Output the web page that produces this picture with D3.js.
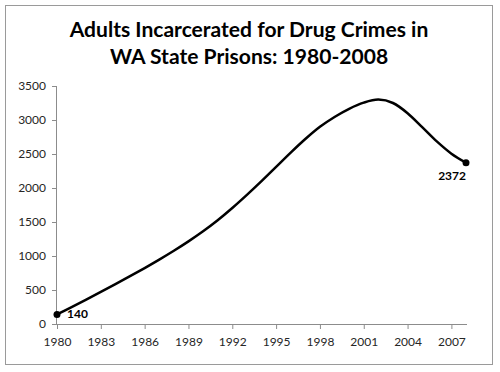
<!DOCTYPE html>
<html><head><meta charset="utf-8">
<script src="https://cdn.jsdelivr.net/npm/d3@7"></script>
<style>
html,body{margin:0;padding:0;background:#fff;}
svg{display:block;}
</style></head>
<body>
<svg id="chart" width="500" height="372"></svg>
<script>
const titleLines = ["Adults Incarcerated for Drug Crimes in", "WA State Prisons: 1980-2008"];
const years = [1980,1981,1982,1983,1984,1985,1986,1987,1988,1989,1990,1991,1992,1993,1994,1995,1996,1997,1998,1999,2000,2001,2002,2003,2004,2005,2006,2007,2008];
const inmates = [140,248,358,471,586,703,823,947,1077,1215,1363,1525,1705,1898,2100,2310,2520,2720,2900,3045,3165,3255,3300,3250,3100,2895,2685,2505,2372];
const xTickYears = [1980,1983,1986,1989,1992,1995,1998,2001,2004,2007];
const yTickValues = [0,500,1000,1500,2000,2500,3000,3500];

const svg = d3.select("#chart");
const font = "Lato, 'Open Sans', sans-serif";

svg.append("rect").attr("x",5.5).attr("y",5.5).attr("width",487).attr("height",359)
  .attr("fill","#fff").attr("stroke","#9a9a9a").attr("stroke-width",1);

const x = d3.scaleLinear().domain([1980,2008]).range([57,466]);
const y = d3.scaleLinear().domain([0,3500]).range([324,86]);

// title
const tl = svg.append("text").attr("text-anchor","middle").attr("font-family",font)
  .attr("font-weight","bold").attr("fill","#000");
tl.append("tspan").attr("x",249).attr("y",37).text(titleLines[0]);
tl.append("tspan").attr("x",249).attr("y",64).text(titleLines[1]);
let fs = 20;
tl.attr("font-size",fs);
const w = tl.select("tspan").node().getComputedTextLength();
tl.attr("font-size", fs*359/w);

// y axis
const yAxis = svg.append("g").attr("transform","translate(57,0)")
  .call(d3.axisLeft(y).tickValues(yTickValues).tickSize(5).tickPadding(6).tickFormat(d3.format("d")));
yAxis.select(".domain").attr("stroke","#8c8c8c").attr("d","M-0.5,86V324.5");
yAxis.selectAll(".tick line").attr("stroke","#8c8c8c");
yAxis.selectAll("text").attr("font-family",font).attr("font-size",12).attr("fill","#262626");

// x axis
const xAxis = svg.append("g").attr("transform","translate(0,324)")
  .call(d3.axisBottom(x).tickValues(xTickYears).tickSize(5).tickPadding(8).tickFormat(d3.format("d")));
xAxis.select(".domain").attr("stroke","#8c8c8c").attr("d","M57,0.5H467");
xAxis.selectAll(".tick line").attr("stroke","#8c8c8c");
xAxis.selectAll("text").attr("font-family",font).attr("font-size",12).attr("fill","#262626");

// line
const line = d3.line().x((d,i)=>x(years[i])).y(d=>y(d)).curve(d3.curveCardinal.tension(0));
svg.append("path").datum(inmates).attr("d",line).attr("fill","none")
  .attr("stroke","#000").attr("stroke-width",2.5).attr("stroke-linejoin","round");

// end markers and labels
const ends = [0, inmates.length-1];
svg.selectAll("circle.m").data(ends).enter().append("circle")
  .attr("cx",i=>x(years[i])).attr("cy",i=>y(inmates[i])).attr("r",3.5).attr("fill","#000");
svg.append("text").attr("x",x(years[0])+10).attr("y",y(inmates[0])+4)
  .attr("font-family",font).attr("font-size",12).attr("font-weight","bold").attr("fill","#000")
  .text(inmates[0]);
svg.append("text").attr("x",x(years[years.length-1])).attr("y",y(inmates[inmates.length-1])+17)
  .attr("text-anchor","end")
  .attr("font-family",font).attr("font-size",12).attr("font-weight","bold").attr("fill","#000")
  .text(inmates[inmates.length-1]);
</script>
</body></html>
